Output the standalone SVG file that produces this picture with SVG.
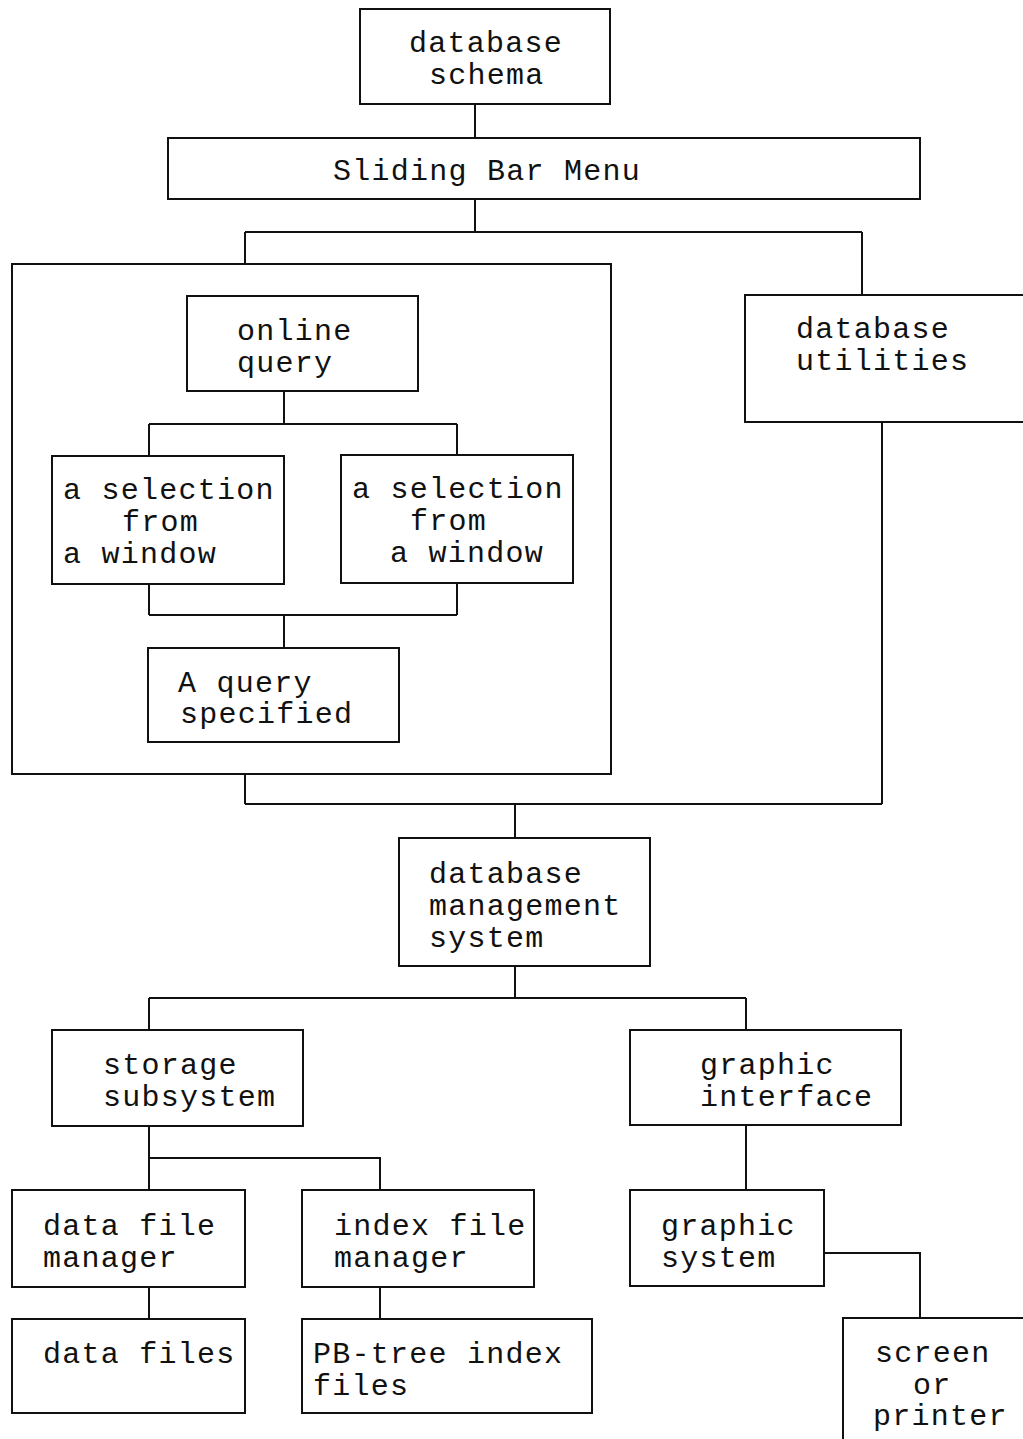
<svg xmlns="http://www.w3.org/2000/svg" width="1023" height="1439" viewBox="0 0 1023 1439">
  <style>
    .box { fill: #fff; stroke: #111; stroke-width: 2; }
    .frame { fill: none; stroke: #111; stroke-width: 2; }
    .wire { fill: none; stroke: #111; stroke-width: 2; }
    text { font-family: "Liberation Mono", "Courier New", monospace; font-size: 30px; letter-spacing: 1.25px; fill: #111; }
  </style>
  <rect width="1023" height="1439" fill="#fff"/>

  <!-- outer frame around the query-building steps -->
  <g id="query-frame">
    <rect class="frame" x="12" y="264" width="599" height="510"/>
  </g>

  <!-- connectors -->
  <g id="connectors" class="wire">
    <path d="M475 104 V138"/>
    <path d="M475 199 V232 M245 232 H862 M245 232 V264 M862 232 V295"/>
    <path d="M284 391 V424 M149 424 H457 M149 424 V456 M457 424 V455"/>
    <path d="M149 584 V615 M457 583 V615 M149 615 H457 M284 615 V648"/>
    <path d="M245 774 V804 M882 422 V804 M245 804 H882 M515 804 V838"/>
    <path d="M515 966 V998 M149 998 H746 M149 998 V1030 M746 998 V1030"/>
    <path d="M149 1126 V1190 M149 1158 H380 V1190"/>
    <path d="M149 1287 V1319 M380 1287 V1319"/>
    <path d="M746 1125 V1190"/>
    <path d="M824 1253 H920 V1318"/>
  </g>

  <g id="database-schema">
    <rect class="box" x="360" y="9" width="250" height="95"/>
    <text x="409" y="52">database</text>
    <text x="429" y="84">schema</text>
  </g>

  <g id="sliding-bar-menu">
    <rect class="box" x="168" y="138" width="752" height="61"/>
    <text x="333" y="180">Sliding Bar Menu</text>
  </g>

  <g id="online-query">
    <rect class="box" x="187" y="296" width="231" height="95"/>
    <text x="237" y="340">online</text>
    <text x="237" y="372">query</text>
  </g>

  <g id="selection-left">
    <rect class="box" x="52" y="456" width="232" height="128"/>
    <text x="63" y="499">a selection</text>
    <text x="122" y="531">from</text>
    <text x="63" y="563">a window</text>
  </g>

  <g id="selection-right">
    <rect class="box" x="341" y="455" width="232" height="128"/>
    <text x="352" y="498">a selection</text>
    <text x="410" y="530">from</text>
    <text x="390" y="562">a window</text>
  </g>

  <g id="query-specified">
    <rect class="box" x="148" y="648" width="251" height="94"/>
    <text x="178" y="692">A query</text>
    <text x="180" y="723">specified</text>
  </g>

  <g id="database-utilities">
    <rect class="box" x="745" y="295" width="290" height="127"/>
    <text x="796" y="338">database</text>
    <text x="796" y="370">utilities</text>
  </g>

  <g id="dbms">
    <rect class="box" x="399" y="838" width="251" height="128"/>
    <text x="429" y="883">database</text>
    <text x="429" y="915">management</text>
    <text x="429" y="947">system</text>
  </g>

  <g id="storage-subsystem">
    <rect class="box" x="52" y="1030" width="251" height="96"/>
    <text x="103" y="1074">storage</text>
    <text x="103" y="1106">subsystem</text>
  </g>

  <g id="graphic-interface">
    <rect class="box" x="630" y="1030" width="271" height="95"/>
    <text x="700" y="1074">graphic</text>
    <text x="700" y="1106">interface</text>
  </g>

  <g id="data-file-manager">
    <rect class="box" x="12" y="1190" width="233" height="97"/>
    <text x="43" y="1235">data file</text>
    <text x="43" y="1267">manager</text>
  </g>

  <g id="index-file-manager">
    <rect class="box" x="302" y="1190" width="232" height="97"/>
    <text x="334" y="1235">index file</text>
    <text x="334" y="1267">manager</text>
  </g>

  <g id="data-files">
    <rect class="box" x="12" y="1319" width="233" height="94"/>
    <text x="43" y="1363">data files</text>
  </g>

  <g id="pb-tree-index-files">
    <rect class="box" x="302" y="1319" width="290" height="94"/>
    <text x="313" y="1363">PB-tree index</text>
    <text x="313" y="1395">files</text>
  </g>

  <g id="graphic-system">
    <rect class="box" x="630" y="1190" width="194" height="96"/>
    <text x="661" y="1235">graphic</text>
    <text x="661" y="1267">system</text>
  </g>

  <g id="screen-or-printer">
    <rect class="box" x="843" y="1318" width="200" height="140"/>
    <text x="875" y="1362">screen</text>
    <text x="913" y="1394">or</text>
    <text x="873" y="1425">printer</text>
  </g>
</svg>
